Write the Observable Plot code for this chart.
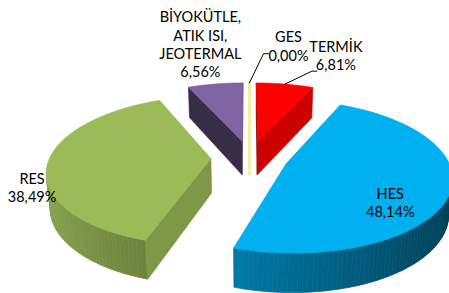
<!DOCTYPE html>
<html>
<head>
<meta charset="utf-8">
<script src="https://cdn.jsdelivr.net/npm/d3@7"></script>
<script src="https://cdn.jsdelivr.net/npm/@observablehq/plot@0.6"></script>
<style>
  html, body { margin: 0; padding: 0; background: #ffffff; }
  #chart { width: 449px; height: 293px; }
</style>
</head>
<body>
<div id="chart"></div>
<script>
// ---- data ----
const categories = ["GES", "TERMİK", "HES", "RES", "BİYOKÜTLE, ATIK ISI, JEOTERMAL"];
const values = [0.00, 6.81, 48.14, 38.49, 6.56];
const labelNames = ["GES", "TERMİK", "HES", "RES", "BİYOKÜTLE,\nATIK ISI,\nJEOTERMAL"];

// ---- style / layout ----
const sliceColors = ["#F3F0A4", "#FF0000", "#00B0F0", "#9BBB59", "#8064A2"];
const W = 449, H = 293;
const cx = 249, cy = 157, k = 161;         // pie centre (px) and radius scale (px)
const D = 5.5;                              // perspective distance (radius units)
const sinE = 0.45, cosE = Math.sqrt(1 - sinE * sinE); // elevation
const thick = 0.245;                        // pie thickness (radius units)
const explode = 0.24;                       // explosion distance (radius units)
const font = "Lato, 'Open Sans', sans-serif";
const labelLayout = {
  "GES": {dx: 39, dy: -37, leader: [[-25, 8], [-20, 8]]},
  "TERMİK": {dx: 51, dy: -29, leader: [[-24, 16], [-19, 16]]},
  "HES": {dx: -60, dy: 10},
  "RES": {dx: -16, dy: 25},
  "BİYOKÜTLE, ATIK ISI, JEOTERMAL": {dx: -15, dy: -40}
};

// ---- geometry ----
function proj(X, Z, h) {
  const dep = Z * cosE - h * sinE;
  const s = D / (D + dep);
  return [X * s, (Z * sinE + h * cosE) * s];
}
const total = d3.sum(values);
let acc = 0;
const slices = categories.map((c, i) => {
  const a0 = acc / total * 2 * Math.PI;
  acc += values[i];
  const a1 = acc / total * 2 * Math.PI;
  const mid = (a0 + a1) / 2;
  return {c, i, v: values[i], a0, a1, mid, ox: explode * Math.sin(mid), oz: explode * Math.cos(mid)};
});
const pt = (s, r, a, h) => proj(s.ox + r * Math.sin(a), s.oz + r * Math.cos(a), h);
const shade = (col, f) => { const c = d3.rgb(col); return d3.rgb(c.r * f, c.g * f, c.b * f).formatHex(); };
function area(p) { // signed area in screen space (y down)
  let a = 0;
  for (let j = 0; j < p.length; j++) {
    const [x1, y1] = p[j], [x2, y2] = p[(j + 1) % p.length];
    a += (x1 * (-y2)) - (x2 * (-y1));
  }
  return a / 2;
}

const polys = [];
const order = slices.slice().sort((a, b) => b.oz - a.oz);
for (const s of order) {
  const base = sliceColors[s.i];
  const zero = s.v === 0;
  const sw = zero ? 2.4 : 0.7;
  // outer wall
  const n = Math.max(1, Math.ceil((s.a1 - s.a0) / (1.5 * Math.PI / 180)));
  for (let j = 0; j < n && !zero; j++) {
    const t0 = s.a0 + (s.a1 - s.a0) * j / n, t1 = s.a0 + (s.a1 - s.a0) * (j + 1) / n;
    const q = [pt(s, 1, t0, 0), pt(s, 1, t1, 0), pt(s, 1, t1, -thick), pt(s, 1, t0, -thick)];
    if (area(q) < 0) {
      const tm = (t0 + t1) / 2;
      const f = 0.34 + 0.54 * (1 - Math.sin(tm)) / 2;
      polys.push({pts: q, fill: shade(base, f), sw});
    }
  }
  // radial faces
  const faces = [];
  const apT = pt(s, 0, 0, 0), apB = pt(s, 0, 0, -thick);
  faces.push({q: [apT, pt(s, 1, s.a0, 0), pt(s, 1, s.a0, -thick), apB], a: s.a0 - Math.PI / 2, m: s.a0});
  faces.push({q: [pt(s, 1, s.a1, 0), apT, apB, pt(s, 1, s.a1, -thick)], a: s.a1 + Math.PI / 2, m: s.a1});
  faces.sort((p, q) => Math.cos(q.m) - Math.cos(p.m));
  for (const fc of faces) {
    if (area(fc.q) <= 1e-9) {
      const f = 0.62 + 0.2 * Math.sin(fc.a);
      polys.push({pts: fc.q, fill: zero ? base : shade(base, f), sw});
    }
  }
  // top
  const top = [apT];
  for (let j = 0; j <= n; j++) top.push(pt(s, 1, s.a0 + (s.a1 - s.a0) * j / n, 0));
  polys.push({pts: top, fill: base, sw});
}
const rows = [];
polys.forEach((p, id) => {
  for (const [x, y] of [...p.pts, p.pts[0]]) rows.push({id, x, y, fill: p.fill, sw: p.sw});
});

// labels
const textMarks = [];
const leaderRows = [];
slices.forEach((s) => {
  const [ax, ay] = pt(s, 1, s.mid, 0);
  const L = labelLayout[s.c];
  const pct = (s.v / total * 100).toFixed(2).replace(".", ",") + "%";
  const lx = ax + L.dx / k, ly = ay - L.dy / k;
  textMarks.push(Plot.text([{x: lx, y: ly, t: labelNames[s.i] + "\n" + pct}], {
    x: "x", y: "y", text: "t", textAnchor: "middle", lineAnchor: "middle",
    lineHeight: 1.26, fontSize: 14.5, fontFamily: font, fill: "#000"
  }));
  if (L.leader) {
    const pts = [[ax, ay], ...L.leader.map(([ox, oy]) => [lx + ox / k, ly - oy / k])];
    pts.forEach(([x, y]) => leaderRows.push({id: s.c, x, y}));
  }
});

const chart = Plot.plot({
  width: W, height: H, margin: 0,
  x: {domain: [-cx / k, (W - cx) / k], axis: null},
  y: {domain: [(cy - H) / k, cy / k], axis: null},
  color: {type: "identity"},
  style: {background: "#ffffff", overflow: "visible"},
  marks: [
    Plot.line(rows, {x: "x", y: "y", z: "id", fill: "fill", stroke: "fill", strokeWidth: "sw", curve: "linear", strokeLinejoin: "round"}),
    Plot.line(leaderRows, {x: "x", y: "y", z: "id", stroke: "#000", strokeWidth: 1}),
    ...textMarks
  ]
});
document.getElementById("chart").appendChild(chart);
</script>
</body>
</html>
